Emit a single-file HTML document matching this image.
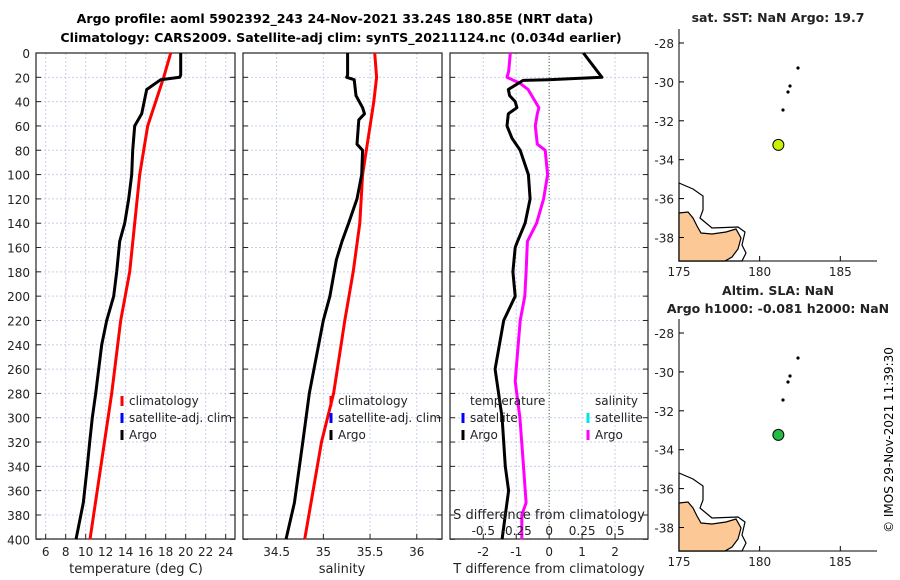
<!DOCTYPE html>
<html><head><meta charset="utf-8"><style>
body{margin:0;background:#fff;}
svg{display:block;font-family:"DejaVu Sans","Liberation Sans",sans-serif;}
</style></head><body>
<svg id="c" width="900" height="580" viewBox="0 0 900 580" xmlns="http://www.w3.org/2000/svg">
<text x="335" y="23" text-anchor="middle" font-weight="bold" font-size="12.6">Argo profile: aoml 5902392_243 24-Nov-2021 33.24S 180.85E (NRT data)</text>
<text x="341" y="42" text-anchor="middle" font-weight="bold" font-size="12.6">Climatology: CARS2009. Satellite-adj clim: synTS_20211124.nc (0.034d earlier)</text>
<text x="0" y="0" transform="translate(893,440) rotate(-90)" text-anchor="middle" font-size="12">© IMOS 29-Nov-2021 11:39:30</text>
<g id="g"></g>
</svg>
<script>
// ---- data ----
const depthT  = [0,18,20,22,30,40,50,60,80,100,120,140,155,180,200,220,240,260,280,300,320,340,370,400];
const argoT   = [19.5,19.5,19.4,17.5,16.1,15.85,15.6,14.9,14.7,14.6,14.3,13.9,13.4,13.1,12.8,12.1,11.6,11.3,11.0,10.66,10.4,10.16,9.76,9.03];
const depthC  = [0,20,40,60,80,100,140,180,220,280,400];
const climT   = [18.5,17.8,17.0,16.2,15.8,15.4,14.9,14.4,13.5,12.6,10.43];
const depthS  = [0,18,20,22,35,45,50,55,75,80,100,120,140,155,170,200,220,280,320,370,400];
const argoS   = [35.26,35.26,35.25,35.33,35.35,35.42,35.44,35.38,35.36,35.42,35.41,35.36,35.27,35.20,35.14,35.07,35.0,34.85,34.78,34.69,34.60];
const depthCS = [0,20,40,60,80,100,140,180,220,240,280,320,400];
const climS   = [35.55,35.57,35.54,35.50,35.46,35.42,35.39,35.32,35.23,35.19,35.11,34.98,34.80];
const depthD  = [0,20,22,22.5,30,35,40,45,50,60,70,80,100,120,140,155,160,180,200,220,260,300,340,360,380,400];
const tDiff   = [1.04,1.6,-0.03,-0.79,-1.24,-1.2,-1.03,-0.98,-1.24,-1.28,-1.13,-0.88,-0.63,-0.58,-0.73,-0.96,-1.03,-1.10,-1.03,-1.38,-1.64,-1.43,-1.33,-1.23,-1.33,-1.43];
const depthSD = [0,15,20,25,30,40,45,50,60,75,80,100,120,140,155,180,200,220,270,300,340,370,380,400];
const sDiff   = [-0.295,-0.307,-0.32,-0.22,-0.16,-0.105,-0.078,-0.09,-0.105,-0.09,-0.03,-0.012,-0.042,-0.095,-0.165,-0.175,-0.185,-0.22,-0.258,-0.222,-0.195,-0.175,-0.208,-0.208];
const depthTicks = [0,20,40,60,80,100,120,140,160,180,200,220,240,260,280,300,320,340,360,380,400];
const tTicks = [6,8,10,12,14,16,18,20,22,24];
const sTicks = [34.5,35,35.5,36];
const dTicks = [-2,-1,0,1,2];
const sdTicks = [-0.5,-0.25,0,0.25,0.5];
const latTicks = [-28,-30,-32,-34,-36,-38];
const lonTicks = [175,180,185];
const profLon = [180.85];
const profLat = [-33.24];

const NS="http://www.w3.org/2000/svg";
const G=document.getElementById('g');
function el(t,a,p){const e=document.createElementNS(NS,t);for(const k in a)e.setAttribute(k,a[k]);(p||G).appendChild(e);return e;}
const Y=d=>53+d*(486.3/400);
const panels=[
 {x0:36,x1:235,v0:5.03,v1:24.93,name:'temperature'},
 {x0:243,x1:442,v0:34.14,v1:36.27,name:'salinity'},
 {x0:450,x1:648,v0:-3.01,v1:3.0,name:'difference'}];
function X(p,v){return p.x0+(v-p.v0)/(p.v1-p.v0)*(p.x1-p.x0);}
function line(p,xs,ds,col,name,scale){
  const pts=xs.map((v,i)=>X(p,v*(scale||1)).toFixed(1)+','+Y(ds[i]).toFixed(1)).join(' ');
  const e=el('polyline',{points:pts,fill:'none',stroke:col,'stroke-width':3,'stroke-linejoin':'round'});
  
  
}
const ticksX=[tTicks,sTicks,dTicks];
panels.forEach((p,pi)=>{
  const g=el('g',{});
  
  
  depthTicks.forEach(d=>{el('line',{x1:p.x0,x2:p.x1,y1:Y(d),y2:Y(d),stroke:'#c9d0ee','stroke-width':1,'stroke-dasharray':'2,2'},g);
    el('line',{x1:p.x0,x2:p.x0+5,y1:Y(d),y2:Y(d),stroke:'#222'},g);el('line',{x1:p.x1,x2:p.x1-5,y1:Y(d),y2:Y(d),stroke:'#222'},g);});
  ticksX[pi].forEach(v=>{el('line',{x1:X(p,v),x2:X(p,v),y1:53,y2:539,stroke:'#c9d0ee','stroke-width':1,'stroke-dasharray':'2,2'},g);
    el('line',{x1:X(p,v),x2:X(p,v),y1:539,y2:534,stroke:'#222'},g);
    const t=el('text',{x:X(p,v),y:556,'text-anchor':'middle','font-size':12,fill:'#222'},g);t.textContent=v;
    
    });
  el('rect',{x:p.x0,y:53,width:p.x1-p.x0,height:486,fill:'none',stroke:'#222','stroke-width':1.2},g);
});
depthTicks.forEach(d=>{const t=el('text',{x:30,y:Y(d)+5,'text-anchor':'end','font-size':12,fill:'#222'});t.textContent=d;
  
  });
el('line',{x1:X(panels[2],0),x2:X(panels[2],0),y1:53,y2:539,stroke:'#556b2f','stroke-width':1,'stroke-dasharray':'1,2'});
line(panels[0],climT,depthC,'#ff0000','temperature-climatology-line');
line(panels[0],argoT,depthT,'#000','temperature-argo-line');
line(panels[1],climS,depthCS,'#ff0000','salinity-climatology-line');
line(panels[1],argoS,depthS,'#000','salinity-argo-line');
line(panels[2],sDiff,depthSD,'#ff00ff','salinity-difference-line',4);
line(panels[2],tDiff,depthD,'#000','temperature-difference-line');
sdTicks.forEach(v=>{const t=el('text',{x:X(panels[2],v*4),y:535,'text-anchor':'middle','font-size':12,fill:'#222'});t.textContent=v;
  
  });
function txt(x,y,s,name,anchor,size){const t=el('text',{x:x,y:y,'font-size':size||12,fill:'#222','text-anchor':anchor||'start'});t.textContent=s;
  
  return t;}
txt(549,519,'S difference from climatology','s-diff-axis-title','middle',13);
txt(136,573,'temperature (deg C)','temperature-axis-title','middle',13);
txt(342,573,'salinity','salinity-axis-title','middle',13);
txt(549,573,'T difference from climatology','t-diff-axis-title','middle',13);
function mark(x,y,c){el('rect',{x:x-1.5,y:y-10,width:3,height:10,fill:c});}
[[122,129],[331,338]].forEach((L,i)=>{
  mark(L[0],406,'#ff0000');txt(L[1],405,'climatology','legend-climatology');
  mark(L[0],423,'#0000ff');txt(L[1],422,'satellite-adj. clim','legend-satellite-adj');
  mark(L[0],440,'#000');txt(L[1],439,'Argo','legend-argo');
});
txt(470,405,'temperature','legend-temperature-header');
mark(463,423,'#0000ff');txt(470,422,'satellite','legend-temp-satellite');
mark(463,440,'#000');txt(470,439,'Argo','legend-temp-argo');
txt(595,405,'salinity','legend-salinity-header');
mark(588,423,'#00e5e5');txt(595,422,'satellite','legend-sal-satellite');
mark(588,440,'#ff00ff');txt(595,439,'Argo','legend-sal-argo');
const maps=[{y0:29,off:0,dot:'#ccee00',name:'sst-map'},{y0:319,off:290,dot:'#22bb44',name:'sla-map'}];
const LX=lon=>679+(lon-175)*16.13;
maps.forEach(m=>{
  const LY=lat=>43+m.off+(-28-lat)*19.45;
  const g=el('g',{});
  
  
  const o=m.off;
  const land=[[679,183],[693,189],[703,196],[703,210],[700,218],[712,228],[738,227],[745,232],[742,245],[746,253],[742,261],[679,261]];
  el('polygon',{points:land.map(p=>p[0]+','+(p[1]+o)).join(' '),fill:'#fff',stroke:'#000','stroke-width':1.2},g);
  const land2=[[679,213],[688,212],[693,218],[697,226],[701,233],[712,234],[726,232],[736,229],[741,238],[738,249],[732,257],[725,261],[679,261]];
  el('polygon',{points:land2.map(p=>p[0]+','+(p[1]+o)).join(' '),fill:'#fcc896',stroke:'#000','stroke-width':1.2},g);
  [[798,68],[790,86],[788,92],[783,110]].forEach(p=>el('circle',{cx:p[0],cy:p[1]+o,r:1.6,fill:'#000'},g));
  el('line',{x1:679,x2:679,y1:m.y0,y2:m.y0+232,stroke:'#000'},g);
  el('line',{x1:679,x2:877,y1:m.y0+232,y2:m.y0+232,stroke:'#000'},g);
  latTicks.forEach(l=>{el('line',{x1:679,x2:684,y1:LY(l),y2:LY(l),stroke:'#000'},g);
    const t=el('text',{x:674,y:LY(l)+5,'text-anchor':'end','font-size':12,fill:'#222'},g);t.textContent=l;
    
    });
  lonTicks.forEach(l=>{el('line',{x1:LX(l),x2:LX(l),y1:m.y0+232,y2:m.y0+227,stroke:'#000'},g);
    const t=el('text',{x:LX(l),y:m.y0+247,'text-anchor':'middle','font-size':12,fill:'#222'},g);t.textContent=l;
    
    });
  const d=el('circle',{cx:LX(profLon[0])+5,cy:LY(profLat[0]),r:5.5,fill:m.dot,stroke:'#000','stroke-width':1},g);
  
  
});
const t1=txt(778,22,'sat. SST: NaN Argo: 19.7','sst-map-title','middle',12.5);t1.setAttribute('font-weight','bold');
const t2=txt(778,295,'Altim. SLA: NaN','sla-map-title','middle',12.5);t2.setAttribute('font-weight','bold');
const t3=txt(778,313,'Argo h1000: -0.081 h2000: NaN','sla-map-subtitle','middle',12.5);t3.setAttribute('font-weight','bold');
</script>
</body></html>
